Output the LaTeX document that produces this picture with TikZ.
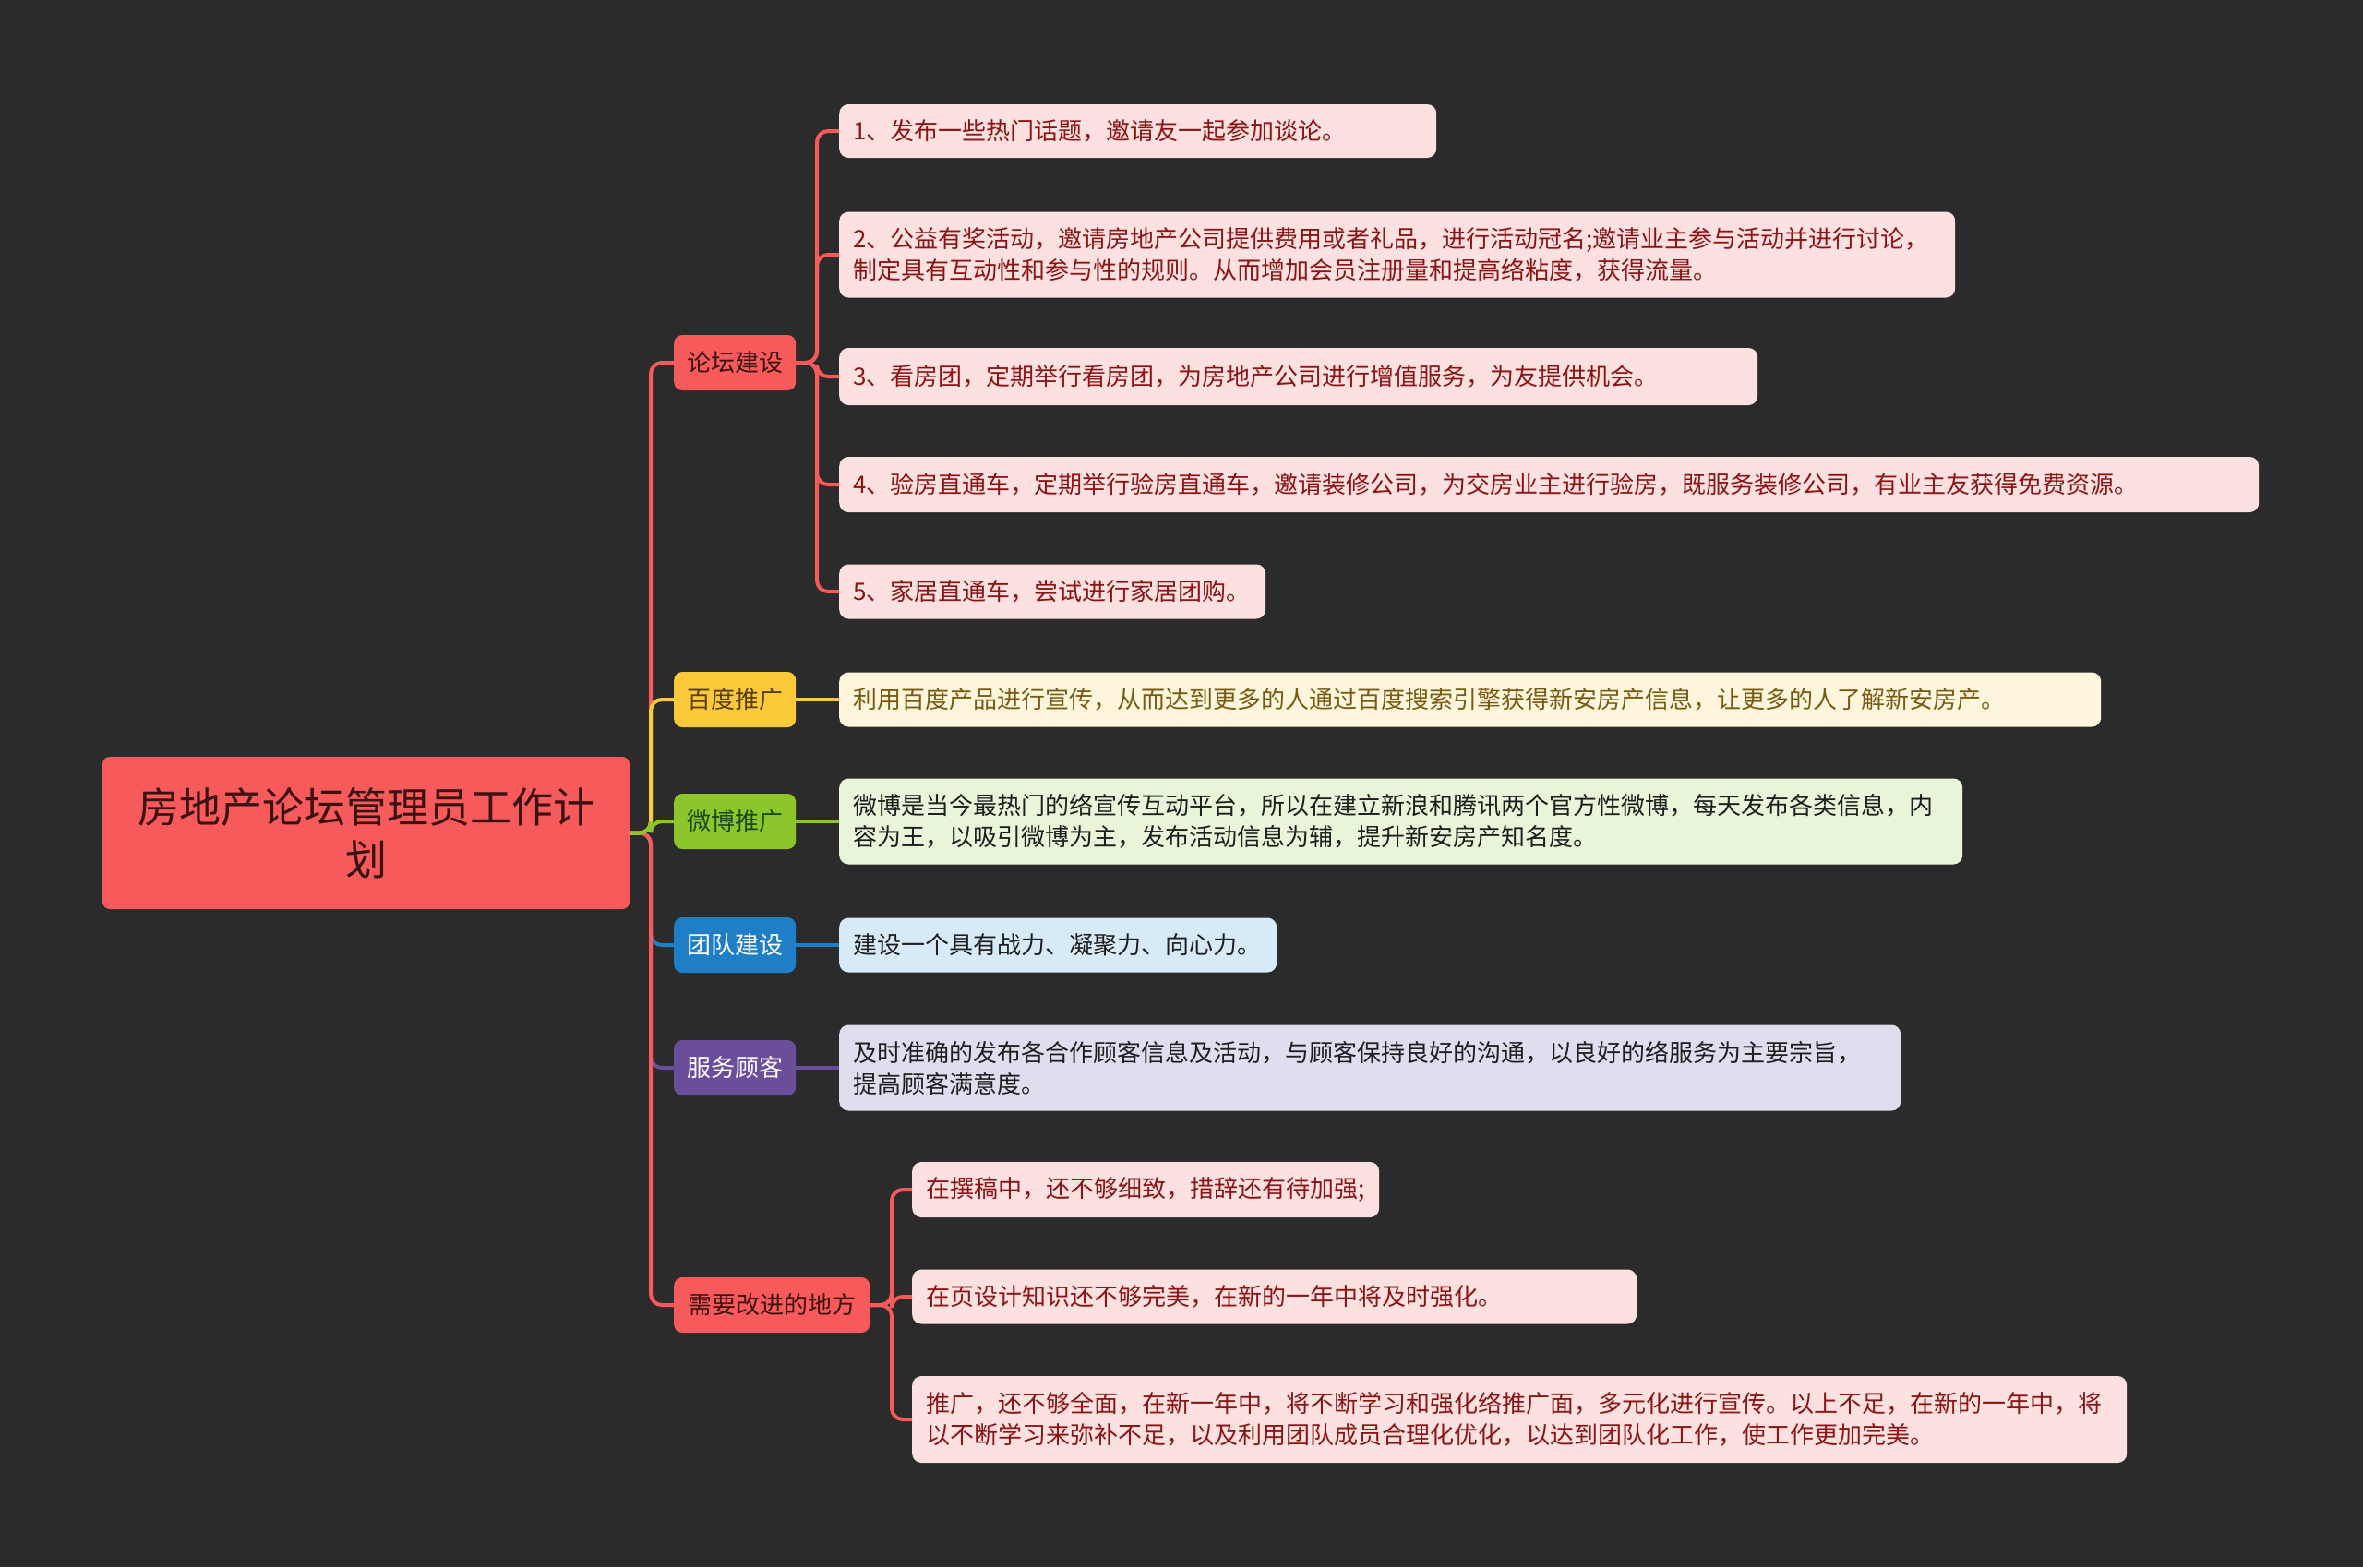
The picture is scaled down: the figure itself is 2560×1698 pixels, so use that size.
\documentclass[tikz,border=0pt]{standalone}
\usepackage{fontspec}
\setmainfont{Noto Sans CJK SC}
\definecolor{bg}{HTML}{2B2B2B}
\definecolor{cred}{HTML}{F65A5B}
\definecolor{cyel}{HTML}{FCC93B}
\definecolor{cgrn}{HTML}{8CC62A}
\definecolor{cblu}{HTML}{1F7FC6}
\definecolor{cpur}{HTML}{6B4E9B}
\definecolor{fred}{HTML}{FDE1E1}
\definecolor{fyel}{HTML}{FDF6DC}
\definecolor{fgrn}{HTML}{E9F5D9}
\definecolor{fblu}{HTML}{D7EAF7}
\definecolor{fpur}{HTML}{E2DDEE}
\definecolor{tred}{HTML}{8B1414}
\definecolor{tyel}{HTML}{7A5A12}
\definecolor{tdark}{HTML}{1E1E1E}
\definecolor{troot}{HTML}{3B1111}
\tikzset{
  rootbox/.style={fill=cred, rounded corners=8pt, minimum width=571pt, minimum height=165pt,
    align=center, text=troot, font=\fontsize{45}{57}\selectfont, inner sep=0pt},
  branch/.style={rounded corners=9pt, minimum height=60pt, anchor=west, inner xsep=13pt, inner ysep=0pt,
    font=\fontsize{26}{34}\selectfont},
  leaf/.style={rounded corners=10pt, anchor=west, inner xsep=15pt, inner ysep=0pt, align=left,
    font=\fontsize{26}{34}\selectfont},
  link/.style={line width=4pt, rounded corners=12pt},
}
\begin{document}
\begin{tikzpicture}[x=1pt,y=-1pt]
\fill[bg] (0,0) rectangle (2560,1698);
\useasboundingbox (0,0) rectangle (2560,1698);

\node[rootbox] (root) at (396.5,902.5) {房地产论坛管理员工作计\\划};

% branches
\node[branch, fill=cred, text=troot, minimum width=132pt] (b1) at (730,393) {论坛建设};
\node[branch, fill=cyel, text=tyel!70!black, minimum width=132pt] (b2) at (730,758) {百度推广};
\node[branch, fill=cgrn, text=tdark!80!green, minimum width=132pt] (b3) at (730,890) {微博推广};
\node[branch, fill=cblu, text=white, minimum width=132pt] (b4) at (730,1024) {团队建设};
\node[branch, fill=cpur, text=white, minimum width=132pt] (b5) at (730,1157) {服务顾客};
\node[branch, fill=cred, text=troot, minimum width=212pt] (b6) at (730,1414) {需要改进的地方};

% leaves of b1
\node[leaf, fill=fred, text=tred, text width=617pt, minimum height=58pt] (l1) at (909,142) {1、发布一些热门话题，邀请友一起参加谈论。};
\node[leaf, fill=fred, text=tred, text width=1179pt, minimum height=93pt] (l2) at (909,276) {2、公益有奖活动，邀请房地产公司提供费用或者礼品，进行活动冠名;邀请业主参与活动并进行讨论，\\制定具有互动性和参与性的规则。从而增加会员注册量和提高络粘度，获得流量。};
\node[leaf, fill=fred, text=tred, text width=965pt, minimum height=62pt] (l3) at (909,408) {3、看房团，定期举行看房团，为房地产公司进行增值服务，为友提供机会。};
\node[leaf, fill=fred, text=tred, text width=1508pt, minimum height=60pt] (l4) at (909,525) {4、验房直通车，定期举行验房直通车，邀请装修公司，为交房业主进行验房，既服务装修公司，有业主友获得免费资源。};
\node[leaf, fill=fred, text=tred, text width=432pt, minimum height=59pt] (l5) at (909,641) {5、家居直通车，尝试进行家居团购。};

% other leaves
\node[leaf, fill=fyel, text=tyel, text width=1337pt, minimum height=59pt] (lb) at (909,758) {利用百度产品进行宣传，从而达到更多的人通过百度搜索引擎获得新安房产信息，让更多的人了解新安房产。};
\node[leaf, fill=fgrn, text=tdark, text width=1187pt, minimum height=93pt] (lw) at (909,890) {微博是当今最热门的络宣传互动平台，所以在建立新浪和腾讯两个官方性微博，每天发布各类信息，内\\容为王，以吸引微博为主，发布活动信息为辅，提升新安房产知名度。};
\node[leaf, fill=fblu, text=tdark, text width=444pt, minimum height=59pt] (lt) at (909,1024) {建设一个具有战力、凝聚力、向心力。};
\node[leaf, fill=fpur, text=tdark, text width=1120pt, minimum height=93pt] (ls) at (909,1157) {及时准确的发布各合作顾客信息及活动，与顾客保持良好的沟通，以良好的络服务为主要宗旨，\\提高顾客满意度。};

% leaves of b6
\node[leaf, fill=fred, text=tred, text width=476pt, minimum height=60pt] (i1) at (988,1289) {在撰稿中，还不够细致，措辞还有待加强;};
\node[leaf, fill=fred, text=tred, text width=755pt, minimum height=59pt] (i2) at (988,1405) {在页设计知识还不够完美，在新的一年中将及时强化。};
\node[leaf, fill=fred, text=tred, text width=1286pt, minimum height=94pt] (i3) at (988,1538) {推广，还不够全面，在新一年中，将不断学习和强化络推广面，多元化进行宣传。以上不足，在新的一年中，将\\以不断学习来弥补不足，以及利用团队成员合理化优化，以达到团队化工作，使工作更加完美。};

% trunk connectors
\coordinate (rj) at (705,902.5);
\draw[link, cblu] (root.east) -- (rj) |- (b4.west);
\draw[link, cpur] (root.east) -- (rj) |- (b5.west);
\draw[link, cred] (root.east) -- (rj) |- (b6.west);
\draw[link, cred] (root.east) -- (rj) |- (b1.west);
\draw[link, cyel] (root.east) -- (rj) |- (b2.west);
\draw[link, cgrn] (root.east) -- (rj) |- (b3.west);

% b1 leaves
\coordinate (j1) at (885,393);
\foreach \n in {l1,l2,l3,l4,l5}{
  \draw[link, cred] (b1.east) -- (j1) |- (\n.west);
}
% b6 leaves
\coordinate (j6) at (966,1414);
\foreach \n in {i1,i2,i3}{
  \draw[link, cred] (b6.east) -- (j6) |- (\n.west);
}
\draw[link, cyel] (b2.east) -- (lb.west);
\draw[link, cgrn] (b3.east) -- (lw.west);
\draw[link, cblu] (b4.east) -- (lt.west);
\draw[link, cpur] (b5.east) -- (ls.west);
\end{tikzpicture}
\end{document}
